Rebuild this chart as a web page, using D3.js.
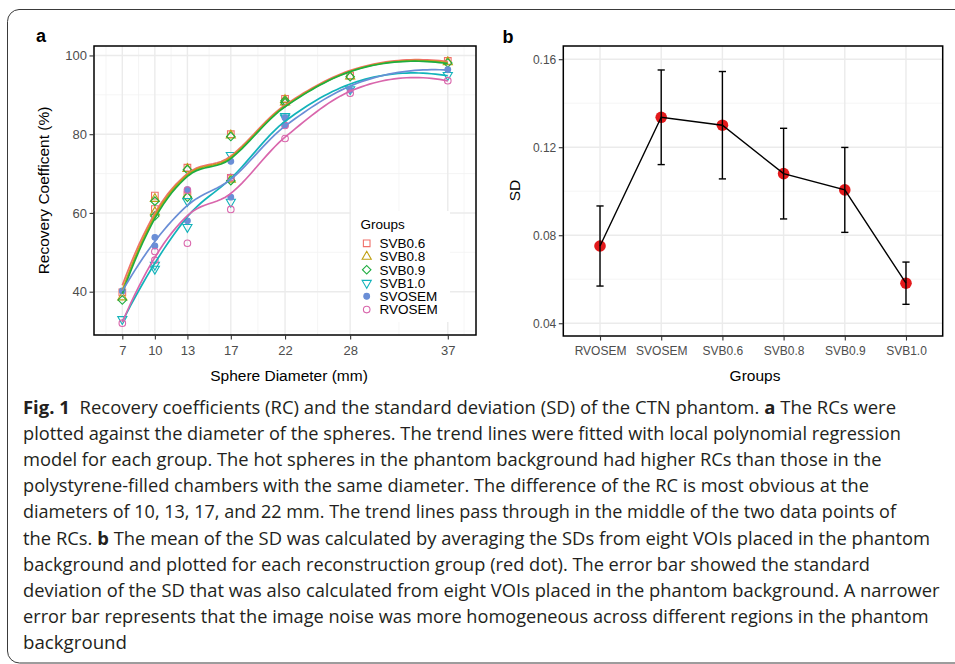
<!DOCTYPE html>
<html>
<head>
<meta charset="utf-8">
<script src="https://cdn.jsdelivr.net/npm/d3@7"></script>
<style>
  body { margin: 0; background: #fff; }
  svg { display: block; font-family: "Liberation Sans", Arial, Helvetica, sans-serif; }
</style>
</head>
<body>
<svg id="fig" width="955" height="664"></svg>
<script>
// ---- panel a : recovery coefficient vs sphere diameter ----
// 10-22 mm spheres have two values (background / polystyrene chamber)
const diameters = [7, 10, 10, 13, 13, 17, 17, 22, 22, 28, 37];
const diameterTicks = [7, 10, 13, 17, 22, 28, 37];
const groupNames = ["SVB0.6", "SVB0.8", "SVB0.9", "SVB1.0", "SVOSEM", "RVOSEM"];
const rcSVB06  = [39.8, 64.4, 61.0, 71.5, 64.5, 80.0, 68.9, 89.0, 88.3, 94.9, 98.6];
const rcSVB08  = [38.6, 63.6, 60.2, 71.2, 64.3, 79.7, 68.5, 88.7, 88.1, 94.7, 98.3];
const rcSVB09  = [37.9, 63.0, 59.2, 71.0, 64.0, 79.4, 68.2, 88.5, 88.0, 94.6, 98.1];
const rcSVB10  = [33.0, 46.8, 45.8, 63.0, 56.4, 74.7, 62.8, 84.6, 84.2, 91.4, 95.0];
const rcSVOSEM = [40.2, 53.8, 51.6, 65.9, 58.0, 73.1, 64.0, 84.2, 82.3, 91.2, 96.4];
const rcRVOSEM = [32.0, 50.2, 48.0, 65.8, 52.3, 69.0, 60.9, 82.2, 78.9, 90.4, 93.6];

// ---- panel b : background SD per reconstruction ----
const sdGroups = ["RVOSEM", "SVOSEM", "SVB0.6", "SVB0.8", "SVB0.9", "SVB1.0"];
const sdMean   = [0.0751, 0.1336, 0.1300, 0.1080, 0.1006, 0.0582];
const sdErr    = [0.0182, 0.0215, 0.0244, 0.0206, 0.0193, 0.0096];
const sdTicks  = [0.04, 0.08, 0.12, 0.16];

const rcValues = [rcSVB06, rcSVB08, rcSVB09, rcSVB10, rcSVOSEM, rcRVOSEM];
const colors = {
  "SVB0.6": "#F0706A", "SVB0.8": "#BFA012", "SVB0.9": "#1EAD40",
  "SVB1.0": "#12B3BA", "SVOSEM": "#6A8ED6", "RVOSEM": "#D966AC"
};
const shapes = {
  "SVB0.6": { type: d3.symbolSquare, size: 44, rot: 0, fill: false },
  "SVB0.8": { type: d3.symbolTriangle, size: 36, rot: 0, fill: false },
  "SVB0.9": { type: d3.symbolSquare, size: 36, rot: 45, fill: false },
  "SVB1.0": { type: d3.symbolTriangle, size: 36, rot: 180, fill: false },
  "SVOSEM": { type: d3.symbolCircle, size: 26, rot: 0, fill: true },
  "RVOSEM": { type: d3.symbolCircle, size: 34, rot: 0, fill: false }
};

const svg = d3.select("#fig");
svg.append("rect").attr("width", 955).attr("height", 664).attr("fill", "#fff");

// outer frame of the figure box
svg.append("path")
  .attr("d", "M960,9.5 H19 A12,12 0 0 0 7.5,21.5 V651 A12,12 0 0 0 19.5,663 H960")
  .attr("fill", "none").attr("stroke", "#3a3a3a").attr("stroke-width", 1);

// local quadratic fit (tricube weights, span .75) -> value and slope at x0
function localFit(xs, ys, x0, span) {
  const n = xs.length, q = Math.floor(n * span);
  const dist = xs.map(x => Math.abs(x - x0));
  const h = dist.slice().sort((a, b) => a - b)[q - 1];
  const s = [0, 0, 0, 0, 0], r = [0, 0, 0];
  xs.forEach((x, i) => {
    const u = dist[i] / h;
    if (u >= 1) return;
    const w = Math.pow(1 - u * u * u, 3);
    const t = x - x0;
    for (let k = 0; k < 5; k++) s[k] += w * Math.pow(t, k);
    for (let k = 0; k < 3; k++) r[k] += w * ys[i] * Math.pow(t, k);
  });
  const det3 = m => m[0][0]*(m[1][1]*m[2][2]-m[1][2]*m[2][1]) - m[0][1]*(m[1][0]*m[2][2]-m[1][2]*m[2][0]) + m[0][2]*(m[1][0]*m[2][1]-m[1][1]*m[2][0]);
  const A  = [[s[0], s[1], s[2]], [s[1], s[2], s[3]], [s[2], s[3], s[4]]];
  const A0 = [[r[0], s[1], s[2]], [r[1], s[2], s[3]], [r[2], s[3], s[4]]];
  const A1 = [[s[0], r[0], s[2]], [s[1], r[1], s[3]], [s[2], r[2], s[4]]];
  const D = det3(A);
  return { y: det3(A0) / D, m: det3(A1) / D };
}

// loess evaluated at vertices then blended with cubic Hermite pieces (as R's interpolate surface)
function loess(xs, ys, at, span) {
  const verts = Array.from(new Set(xs)).sort((a, b) => a - b);
  const fits = verts.map(v => localFit(xs, ys, v, span));
  return at.map(x => {
    let k = 0;
    while (k < verts.length - 2 && x > verts[k + 1]) k++;
    const v0 = verts[k], v1 = verts[k + 1], hh = v1 - v0, t = (x - v0) / hh;
    const f0 = fits[k], f1 = fits[k + 1];
    const y = (2*t*t*t - 3*t*t + 1) * f0.y + (t*t*t - 2*t*t + t) * hh * f0.m
            + (-2*t*t*t + 3*t*t) * f1.y + (t*t*t - t*t) * hh * f1.m;
    return { x, y };
  });
}

function styleAxis(g, size) {
  g.select(".domain").remove();
  g.selectAll(".tick line").attr("stroke", "#333").attr("stroke-width", 1.1);
  g.selectAll(".tick text").attr("fill", "#4D4D4D").attr("font-size", size)
    .attr("font-family", "'Liberation Sans', Arial, sans-serif");
}

// ================= panel a =================
const xA = d3.scaleLinear().domain([4.39, 39.6]).range([94, 476]);
const yA = d3.scaleLinear().domain([29, 102.4]).range([335, 46]);
const pa = svg.append("g");

const minorX = [5.5, 8.5, 11.5, 15, 19.5, 25, 32.5, 38.5];
pa.selectAll(".mxa").data(minorX).enter().append("line")
  .attr("x1", d => xA(d)).attr("x2", d => xA(d)).attr("y1", 46).attr("y2", 335)
  .attr("stroke", "#F2F2F2").attr("stroke-width", 0.8);
pa.selectAll(".mya").data([30, 50, 70, 90]).enter().append("line")
  .attr("y1", d => yA(d)).attr("y2", d => yA(d)).attr("x1", 94).attr("x2", 476)
  .attr("stroke", "#F2F2F2").attr("stroke-width", 0.8);
pa.selectAll(".gxa").data(diameterTicks).enter().append("line")
  .attr("x1", d => xA(d)).attr("x2", d => xA(d)).attr("y1", 46).attr("y2", 335)
  .attr("stroke", "#EBEBEB").attr("stroke-width", 1.4);
pa.selectAll(".gya").data([40, 60, 80, 100]).enter().append("line")
  .attr("y1", d => yA(d)).attr("y2", d => yA(d)).attr("x1", 94).attr("x2", 476)
  .attr("stroke", "#EBEBEB").attr("stroke-width", 1.4);

const series = groupNames.map((g, i) => ({
  name: g,
  pts: diameters.map((d, j) => ({ x: d, y: rcValues[i][j] }))
}));

const symbolPath = (g) => d3.symbol().type(shapes[g].type).size(shapes[g].size)();

// points
series.forEach(s => {
  pa.append("g").selectAll("path").data(s.pts).enter().append("path")
    .attr("d", symbolPath(s.name))
    .attr("transform", d => `translate(${xA(d.x)},${yA(d.y)}) rotate(${shapes[s.name].rot})`)
    .attr("fill", shapes[s.name].fill ? colors[s.name] : "none")
    .attr("stroke", colors[s.name]).attr("stroke-width", 1.1);
});

// smooth lines
const grid = d3.range(80).map(i => 7 + i * (37 - 7) / 79);
const lineA = d3.line().x(d => xA(d.x)).y(d => yA(d.y));
series.forEach(s => {
  const fit = loess(s.pts.map(p => p.x), s.pts.map(p => p.y), grid, 0.75);
  pa.append("path").datum(fit).attr("d", lineA)
    .attr("fill", "none").attr("stroke", colors[s.name]).attr("stroke-width", 1.7);
});

// legend
const lg = pa.append("g");
lg.append("rect").attr("x", 351).attr("y", 211).attr("width", 99).attr("height", 111).attr("fill", "#fff");
lg.append("text").attr("x", 360.5).attr("y", 229).attr("font-size", 13.5).attr("fill", "#000").text("Groups");
groupNames.forEach((g, i) => {
  const cy = 243.3 + i * 13.25;
  lg.append("path").attr("d", symbolPath(g))
    .attr("transform", `translate(366.7,${cy}) rotate(${shapes[g].rot})`)
    .attr("fill", shapes[g].fill ? colors[g] : "none")
    .attr("stroke", colors[g]).attr("stroke-width", 1.1);
  lg.append("text").attr("x", 379.5).attr("y", cy + 4.8).attr("font-size", 13.5).attr("fill", "#000").text(g);
});

pa.append("rect").attr("x", 94).attr("y", 46).attr("width", 382).attr("height", 289)
  .attr("fill", "none").attr("stroke", "#000").attr("stroke-width", 1.5);

pa.append("g").attr("transform", "translate(94,0)")
  .call(d3.axisLeft(yA).tickValues([40, 60, 80, 100]).tickSize(4.5).tickPadding(2.5))
  .call(g => styleAxis(g, 13));
pa.append("g").attr("transform", "translate(0,335)")
  .call(d3.axisBottom(xA).tickValues(diameterTicks).tickSize(4.5).tickPadding(6))
  .call(g => styleAxis(g, 13));

pa.append("text").attr("x", 289).attr("y", 381).attr("text-anchor", "middle")
  .attr("font-size", 15.5).attr("fill", "#000").text("Sphere Diameter (mm)");
pa.append("text").attr("transform", "translate(48.5,190.5) rotate(-90)").attr("text-anchor", "middle")
  .attr("font-size", 15.5).attr("fill", "#000").text("Recovery Coefficent (%)");
svg.append("text").attr("x", 36).attr("y", 42).attr("font-size", 18).attr("font-weight", "bold").text("a");

// ================= panel b =================
const xB = d3.scalePoint().domain(sdGroups).range([563.3, 942.7]).padding(0.6);
const yB = d3.scaleLinear().domain([0.0342, 0.166]).range([336, 46]);
const pb = svg.append("g");

pb.selectAll(".myb").data([0.06, 0.10, 0.14]).enter().append("line")
  .attr("y1", d => yB(d)).attr("y2", d => yB(d)).attr("x1", 563.3).attr("x2", 942.7)
  .attr("stroke", "#F2F2F2").attr("stroke-width", 0.8);
pb.selectAll(".gxb").data(sdGroups).enter().append("line")
  .attr("x1", d => xB(d)).attr("x2", d => xB(d)).attr("y1", 46).attr("y2", 336)
  .attr("stroke", "#EBEBEB").attr("stroke-width", 1.4);
pb.selectAll(".gyb").data(sdTicks).enter().append("line")
  .attr("y1", d => yB(d)).attr("y2", d => yB(d)).attr("x1", 563.3).attr("x2", 942.7)
  .attr("stroke", "#EBEBEB").attr("stroke-width", 1.4);

const sdData = sdGroups.map((g, i) => ({ g, m: sdMean[i], e: sdErr[i] }));

pb.selectAll(".dot").data(sdData).enter().append("circle")
  .attr("cx", d => xB(d.g)).attr("cy", d => yB(d.m)).attr("r", 5.8).attr("fill", "#E31A1C");

pb.append("path").datum(sdData)
  .attr("d", d3.line().x(d => xB(d.g)).y(d => yB(d.m)))
  .attr("fill", "none").attr("stroke", "#000").attr("stroke-width", 1.4);

const eb = pb.selectAll(".eb").data(sdData).enter().append("g");
eb.append("line").attr("x1", d => xB(d.g)).attr("x2", d => xB(d.g))
  .attr("y1", d => yB(d.m - d.e)).attr("y2", d => yB(d.m + d.e))
  .attr("stroke", "#000").attr("stroke-width", 1.4);
eb.append("line").attr("x1", d => xB(d.g) - 3.6).attr("x2", d => xB(d.g) + 3.6)
  .attr("y1", d => yB(d.m + d.e)).attr("y2", d => yB(d.m + d.e))
  .attr("stroke", "#000").attr("stroke-width", 1.4);
eb.append("line").attr("x1", d => xB(d.g) - 3.6).attr("x2", d => xB(d.g) + 3.6)
  .attr("y1", d => yB(d.m - d.e)).attr("y2", d => yB(d.m - d.e))
  .attr("stroke", "#000").attr("stroke-width", 1.4);

pb.append("rect").attr("x", 563.3).attr("y", 46).attr("width", 379.4).attr("height", 290)
  .attr("fill", "none").attr("stroke", "#000").attr("stroke-width", 1.5);

pb.append("g").attr("transform", "translate(563.3,0)")
  .call(d3.axisLeft(yB).tickValues(sdTicks).tickFormat(d3.format(".2f")).tickSize(4.5).tickPadding(2.5))
  .call(g => styleAxis(g, 12));
pb.append("g").attr("transform", "translate(0,336)")
  .call(d3.axisBottom(xB).tickSize(4.5).tickPadding(6))
  .call(g => styleAxis(g, 12));

pb.append("text").attr("x", 755).attr("y", 381).attr("text-anchor", "middle")
  .attr("font-size", 15.5).attr("fill", "#000").text("Groups");
pb.append("text").attr("transform", "translate(520,190.5) rotate(-90)").attr("text-anchor", "middle")
  .attr("font-size", 15.5).attr("fill", "#000").text("SD");
svg.append("text").attr("x", 502.5).attr("y", 43).attr("font-size", 18).attr("font-weight", "bold").text("b");

// ================= caption =================
const captionLines = [
  [["b", "Fig. 1"], ["n", "Recovery coefficients (RC) and the standard deviation (SD) of the CTN phantom."], ["b", "a"], ["n", "The RCs were"]],
  [["n", "plotted against the diameter of the spheres. The trend lines were fitted with local polynomial regression"]],
  [["n", "model for each group. The hot spheres in the phantom background had higher RCs than those in the"]],
  [["n", "polystyrene-filled chambers with the same diameter. The difference of the RC is most obvious at the"]],
  [["n", "diameters of 10, 13, 17, and 22 mm. The trend lines pass through in the middle of the two data points of"]],
  [["n", "the RCs."], ["b", "b"], ["n", "The mean of the SD was calculated by averaging the SDs from eight VOIs placed in the phantom"]],
  [["n", "background and plotted for each reconstruction group (red dot). The error bar showed the standard"]],
  [["n", "deviation of the SD that was also calculated from eight VOIs placed in the phantom background. A narrower"]],
  [["n", "error bar represents that the image noise was more homogeneous across different regions in the phantom"]],
  [["n", "background"]]
];
const captionEnds = [896, 901, 881.5, 869, 896, 930, 870, 939.5, 928.5, 127];

const baseSize = 19.5;
const cap = svg.append("g").attr("font-family", "'Open Sans', 'Noto Sans', sans-serif").attr("fill", "#231F20");
captionLines.forEach((segs, i) => {
  const y = 413.5 + i * 26.2;
  // each segment is its own text; measured, then scaled so the line ends where the reference does
  const parts = segs.map(([w, s]) => {
    const t = cap.append("text").attr("y", y).attr("font-size", baseSize)
      .attr("font-weight", w === "b" ? 700 : 400).text(s);
    return { t, w: t.node().getComputedTextLength(), bold: w === "b" };
  });
  const gapW = 5.2;
  const gaps = parts.slice(1).map((p, k) => (k === 0 && parts[0].bold && i === 0) ? 2 * gapW : gapW);
  const natural = d3.sum(parts, p => p.w) + d3.sum(gaps);
  const k = (captionEnds[i] - 23) / natural;
  const size = Math.min(baseSize * 1.03, baseSize * k);
  let x = 23;
  parts.forEach((p, j) => {
    p.t.attr("x", x).attr("font-size", size)
      .attr("textLength", p.w * k).attr("lengthAdjust", "spacingAndGlyphs");
    x += p.w * k + (j < gaps.length ? gaps[j] * k : 0);
  });
});
</script>
</body>
</html>
